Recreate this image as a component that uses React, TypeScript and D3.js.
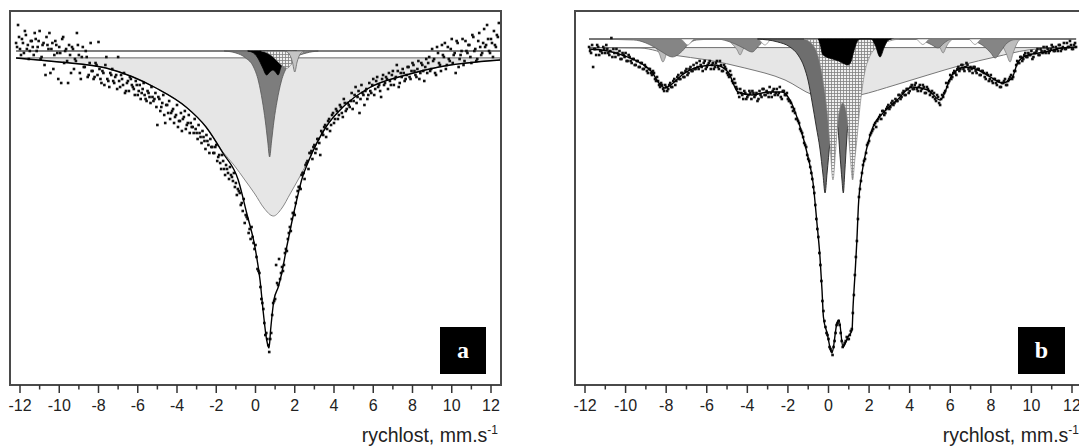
import React from 'react';
import * as d3 from 'd3';

const W = 1079;
const H = 447;

// velocity axis ticks (mm/s)
const majorTicks = [-12, -10, -8, -6, -4, -2, 0, 2, 4, 6, 8, 10, 12];
const minorTicks = [-11, -9, -7, -5, -3, -1, 1, 3, 5, 7, 9, 11];
const axisLabel = 'rychlost, mm.s';
const chanStep = 0.1;

// ---------- Panel a ----------
const chanStartA = -12.2;
// measured relative transmission (%) per channel, panel a
const dataA = [
  100.4, 101.3, 100.1, 100.6, 99.9, 100.8, 100.3, 100.0, 100.5, 99.8,
  100.6, 100.2, 101.0, 99.7, 100.4, 98.8, 100.3, 100.9, 100.1, 99.1,
  100.5, 99.9, 100.2, 98.4, 100.7, 100.0, 99.5, 100.3, 98.9, 100.1,
  99.6, 100.9, 99.8, 98.6, 100.2, 99.2, 99.7, 98.8, 100.4, 99.0,
  98.7, 99.3, 100.45, 98.6, 99.0, 98.3, 99.7, 98.5, 98.9, 99.1,
  98.4, 98.8, 99.7, 98.2, 98.6, 98.9, 98.0, 98.5, 98.7, 98.3,
  98.1, 98.5, 97.8, 98.3, 97.9, 98.4, 97.6, 98.0, 97.7, 98.2,
  97.5, 97.9, 96.3, 97.6, 97.2, 97.8, 96.4, 97.3, 97.5, 96.9,
  97.1, 96.7, 97.3, 96.5, 96.9, 96.6, 97.0, 96.3, 96.8, 96.4,
  96.2, 96.6, 95.9, 96.3, 95.7, 96.0, 95.5, 95.8, 95.3, 95.6,
  95.2, 94.9, 95.3, 94.7, 94.4, 94.8, 94.1, 94.3, 93.9, 94.2,
  93.7, 93.9, 93.4, 93.1, 92.9, 92.4, 92.6, 91.8, 91.6, 91.1,
  91.2, 90.4, 90.3, 89.1, 88.9, 87.6, 87.1, 85.8, 85.6, 84.95,
  85.9, 87.4, 87.6, 88.4, 89.6, 88.9, 89.0, 89.9, 90.0, 90.9,
  91.0, 91.9, 91.8, 92.7, 93.2, 93.1, 93.9, 93.6, 94.4, 94.1,
  94.9, 94.6, 95.3, 95.1, 95.6, 94.8, 95.9, 96.2, 95.7, 96.5,
  96.0, 96.8, 96.4, 97.1, 96.6, 97.3, 96.9, 97.6, 97.0, 97.4,
  97.2, 97.9, 97.5, 98.2, 97.7, 96.9, 98.3, 97.8, 98.0, 97.6,
  98.4, 97.9, 98.6, 98.1, 98.7, 98.3, 97.7, 98.8, 98.4, 98.6,
  98.9, 98.3, 99.0, 98.6, 99.3, 98.2, 98.9, 99.1, 98.5, 98.8,
  99.2, 98.6, 99.4, 99.0, 98.7, 99.5, 98.9, 99.3, 98.5, 99.6,
  99.4, 99.0, 100.1, 99.6, 98.8, 99.9, 99.3, 100.3, 99.7, 99.1,
  100.2, 99.5, 100.6, 99.8, 98.9, 100.4, 99.6, 100.0, 99.3, 100.5,
  99.9, 100.3, 99.4, 100.7, 100.1, 99.6, 100.9, 99.8, 100.4, 100.2,
  101.3, 100.0, 100.6, 99.7, 100.3, 100.8, 101.4,
];
// second (folded) half of the spectrum, panel a
const chanStartA2 = -12.15;
const dataA2 = [
  100.2, 100.7, 99.8, 100.4, 101.0, 100.1, 99.6, 100.5, 100.2, 100.9,
  100.0, 100.5, 99.6, 100.3, 99.3, 100.7, 100.1, 98.9, 100.4, 99.8,
  100.3, 98.6, 99.9, 100.6, 99.4, 100.1, 98.4, 99.8, 100.2, 99.1,
  99.5, 100.3, 98.9, 99.7, 99.2, 100.0, 98.7, 99.4, 99.0, 98.6,
  99.4, 98.8, 99.1, 98.4, 98.9, 99.3, 98.6, 98.2, 98.8, 98.5,
  98.7, 98.1, 98.5, 98.8, 98.3, 97.9, 98.4, 98.0, 98.6, 98.2,
  97.8, 98.3, 98.0, 97.6, 98.1, 97.8, 97.5, 97.9, 97.4, 97.7,
  97.6, 97.2, 97.7, 97.0, 97.4, 96.8, 97.3, 96.9, 96.6, 97.0,
  96.4, 96.8, 96.2, 96.5, 96.0, 96.7, 96.1, 96.4, 95.9, 96.2,
  95.9, 96.1, 95.6, 95.9, 95.4, 95.7, 95.1, 95.5, 94.9, 95.2,
  94.9, 95.2, 94.5, 94.8, 94.1, 94.5, 93.8, 94.1, 93.6, 93.8,
  93.5, 93.2, 92.8, 93.0, 92.3, 92.0, 91.4, 91.7, 90.9, 90.6,
  90.7, 90.1, 89.7, 89.0, 88.2, 87.4, 86.4, 85.9, 85.3, 85.6,
  86.8, 87.5, 89.3, 88.3, 88.6, 89.2, 89.3, 90.1, 90.6, 91.2,
  91.6, 91.9, 92.4, 93.0, 93.2, 93.8, 93.9, 94.3, 94.5, 94.9,
  95.0, 95.2, 94.9, 95.6, 95.4, 96.0, 95.8, 96.3, 96.1, 96.6,
  96.3, 96.9, 96.6, 97.0, 96.8, 97.2, 96.7, 97.4, 97.1, 97.3,
  97.5, 97.1, 97.8, 97.4, 98.0, 97.6, 97.9, 97.3, 98.1, 97.8,
  98.0, 98.3, 97.8, 98.5, 98.2, 98.0, 98.6, 98.3, 98.7, 98.1,
  98.5, 98.8, 98.3, 98.7, 99.0, 98.4, 98.7, 98.9, 98.6, 99.2,
  98.7, 99.0, 99.3, 98.8, 99.1, 98.6, 99.4, 99.0, 99.2, 98.9,
  99.7, 99.1, 99.5, 98.9, 100.2, 99.4, 99.0, 99.8, 100.4, 99.3,
  99.6, 100.1, 99.4, 99.9, 100.5, 99.2, 99.8, 100.6, 99.5, 100.0,
  100.3, 99.7, 100.8, 100.0, 99.5, 100.5, 100.2, 99.9, 101.1, 100.3,
  100.6, 99.9, 100.4, 101.0, 100.2, 100.7,
];
const fitA: [number, number][] = [
  [-12.2, 99.65], [-10, 99.45], [-7.62, 99.15], [-5.07, 98.15], [-3.54, 97.2],
  [-2.52, 96.2], [-1.66, 94.9], [-0.88, 93.55], [-0.45, 91.9], [-0.03, 90.2],
  [0.23, 88.55], [0.4, 86.9], [0.57, 85.55], [0.69, 85.15], [0.77, 86.05],
  [0.94, 87.55], [1.16, 88.2], [1.34, 88.9], [1.59, 90.2], [1.84, 91.4],
  [2.1, 92.55], [2.35, 93.55], [2.73, 94.55], [3.59, 96.2], [4.46, 97.2],
  [5.78, 98.15], [7.67, 98.8], [9.35, 99.2], [12.46, 99.55],
];
const broadBaseA = 99.65;
const broadA: [number, number][] = [
  [-12.2, 99.65], [-10, 99.45], [-7.62, 99.15], [-5.07, 98.15], [-3.54, 97.2],
  [-2.52, 96.2], [-1.66, 94.95], [-1.1, 94.3], [-0.54, 93.55], [-0.03, 92.85],
  [0.43, 92.15], [0.91, 91.75], [1.35, 92.15], [1.76, 92.85], [2.22, 93.65],
  [2.73, 94.6], [3.59, 96.2], [4.46, 97.2], [5.78, 98.15], [7.67, 98.8],
  [9.35, 99.2], [12.46, 99.55],
];
const darkA: [number, number][] = [
  [-1.6, 100], [-1.0, 99.9], [-0.5, 99.65], [-0.1, 99.2], [0.15, 98.5], [0.35, 97.5],
  [0.5, 96.5], [0.62, 95.5], [0.72, 94.7], [0.82, 95.5], [0.94, 96.5], [1.1, 97.5],
  [1.32, 98.5], [1.6, 99.2], [2.0, 99.65], [2.6, 99.9], [3.2, 100],
];
const blackA: [number, number][] = [
  [-0.4, 100], [-0.1, 99.9], [0.15, 99.6], [0.35, 99.2], [0.57, 98.8], [0.73, 98.95],
  [0.89, 99.05], [1.02, 98.95], [1.15, 98.8], [1.3, 99.2], [1.5, 99.7], [1.75, 99.95], [2.1, 100],
];
const hatchA: [number, number][] = [
  [0.3, 100], [0.6, 99.9], [0.9, 99.7], [1.2, 99.4], [1.45, 99.2], [1.6, 99.13],
  [1.8, 99.3], [2.1, 99.65], [2.4, 99.9], [2.7, 100],
];
const lightA: [number, number][] = [
  [1.5, 100], [1.72, 99.85], [1.88, 99.45], [2.0, 98.95], [2.12, 99.45], [2.28, 99.85], [2.5, 100],
];

// ---------- Panel b ----------
const chanStartB = -11.8;
const dataB = [
  99.6, 99.3, 98.6, 99.5, 99.7, 99.2, 99.4, 99.6, 99.3, 99.5,
  99.2, 100.05, 99.5, 99.1, 99.3, 99.4, 99.0, 99.2, 99.3, 98.9,
  99.1, 98.8, 99.0, 98.7, 98.9, 98.6, 98.8, 98.5, 98.6, 98.3,
  98.5, 98.2, 98.3, 97.9, 97.9, 97.6, 97.7, 97.4, 97.6, 97.5,
  97.8, 97.6, 98.0, 97.9, 98.2, 98.0, 98.3, 98.1, 98.5, 98.3,
  98.6, 98.4, 98.5, 98.8, 98.5, 98.7, 98.4, 98.9, 98.6, 98.8,
  98.5, 98.8, 98.6, 98.9, 98.5, 98.7, 98.4, 98.6, 98.3, 98.1,
  98.2, 97.8, 97.8, 97.5, 97.1, 97.3, 97.0, 97.3, 97.1, 97.4,
  97.0, 97.3, 97.2, 96.9, 97.4, 97.1, 97.5, 97.2, 97.3, 97.6,
  97.1, 97.5, 97.3, 97.2, 97.6, 97.0, 97.4, 97.2, 97.0, 96.9,
  96.6, 96.5, 96.0, 95.9, 95.5, 95.3, 94.8, 94.6, 94.0, 93.6,
  93.0, 92.3, 91.0, 90.1, 88.7, 86.9, 85.9, 85.3, 85.0, 84.5,
  84.2, 84.9, 85.7, 85.9, 85.3, 84.6, 84.8, 85.1, 85.0, 85.4,
  86.3, 88.2, 89.9, 92.1, 92.9, 93.7, 94.0, 94.7, 94.9, 95.3,
  95.5, 95.8, 95.9, 96.1, 96.0, 96.4, 96.3, 96.6, 96.5, 96.8,
  96.7, 97.0, 96.9, 97.2, 97.1, 97.4, 97.2, 97.5, 97.4, 97.7,
  97.5, 97.8, 97.4, 97.7, 97.5, 97.6, 97.3, 97.5, 97.2, 97.4,
  97.3, 96.9, 97.1, 96.7, 97.2, 97.3, 97.8, 97.8, 98.2, 98.1,
  98.4, 98.2, 98.6, 98.5, 98.7, 98.4, 98.8, 98.5, 98.6, 98.3,
  98.6, 98.3, 98.5, 98.2, 98.4, 98.1, 98.3, 97.9, 98.2, 97.8,
  98.0, 97.7, 97.9, 97.6, 97.8, 98.0, 97.7, 98.0, 98.2, 98.1,
  98.4, 98.9, 98.8, 99.1, 99.0, 99.3, 99.1, 99.2, 99.4, 99.1,
  99.3, 99.5, 99.2, 99.4, 99.6, 99.3, 99.5, 99.4, 99.7, 99.4,
  99.6, 99.4, 99.7, 99.5, 99.8, 99.5, 99.6, 99.9, 99.5, 99.7, 99.6,
];
// second (folded) half of the spectrum, panel b
const chanStartB2 = -11.75;
const dataB2 = [
  99.4, 99.7, 99.5, 99.2, 99.6, 99.4, 99.3, 99.5, 99.7, 99.3,
  99.4, 99.1, 99.3, 99.5, 99.2, 99.0, 99.3, 99.1, 98.9, 99.2,
  98.9, 99.0, 98.7, 98.9, 98.6, 98.8, 98.5, 98.7, 98.4, 98.5,
  98.3, 98.4, 98.0, 98.1, 97.7, 97.8, 97.5, 97.7, 97.4, 97.7,
  97.6, 97.9, 97.7, 98.1, 98.0, 98.3, 98.1, 98.4, 98.2, 98.5,
  98.4, 98.7, 98.5, 98.6, 98.9, 98.6, 98.8, 98.5, 98.7, 98.9,
  98.7, 98.5, 98.8, 98.6, 98.9, 98.4, 98.7, 98.5, 98.2, 98.4,
  97.9, 98.0, 97.6, 97.3, 97.5, 97.2, 97.4, 97.0, 97.2, 97.3,
  97.4, 97.1, 97.3, 97.0, 97.2, 97.5, 97.2, 97.4, 97.1, 97.3,
  97.4, 97.2, 97.5, 97.3, 97.1, 97.4, 97.2, 97.3, 96.9, 96.8,
  96.4, 96.3, 96.0, 95.8, 95.4, 95.1, 94.7, 94.2, 93.9, 93.3,
  92.6, 91.7, 90.5, 89.3, 87.9, 86.4, 85.6, 85.2, 84.6, 84.4,
  84.6, 85.3, 85.8, 85.7, 84.9, 84.7, 84.9, 85.0, 85.2, 85.5,
  87.2, 89.1, 91.0, 92.5, 93.3, 93.9, 94.3, 94.8, 95.2, 95.4,
  95.7, 95.6, 96.0, 96.2, 96.4, 96.2, 96.5, 96.7, 96.6, 96.9,
  96.8, 96.9, 97.2, 97.0, 97.3, 97.2, 97.5, 97.3, 97.6, 97.5,
  97.7, 97.5, 97.6, 97.4, 97.7, 97.3, 97.6, 97.4, 97.3, 97.1,
  97.0, 97.2, 96.8, 97.0, 97.1, 97.4, 97.6, 97.9, 98.0, 98.3,
  98.3, 98.5, 98.4, 98.7, 98.5, 98.6, 98.7, 98.4, 98.5, 98.6,
  98.4, 98.5, 98.2, 98.4, 98.3, 98.0, 98.2, 98.0, 97.9, 98.0,
  97.8, 97.9, 97.6, 97.8, 97.9, 97.7, 97.9, 98.1, 98.0, 98.4,
  98.7, 98.8, 99.1, 98.9, 99.2, 99.1, 99.3, 99.2, 99.0, 99.3,
  99.4, 99.2, 99.5, 99.3, 99.4, 99.6, 99.3, 99.5, 99.6, 99.4,
  99.5, 99.7, 99.4, 99.6, 99.5, 99.8, 99.6, 99.7, 99.5, 99.8,
];
const fitB: [number, number][] = [
  [-11.8, 99.5], [-10.87, 99.4], [-10.03, 99.15], [-9.19, 98.75], [-8.7, 98.35],
  [-8.36, 97.8], [-8.06, 97.55], [-7.71, 97.75], [-7.22, 98.2], [-6.43, 98.6],
  [-5.59, 98.7], [-4.95, 98.35], [-4.46, 97.35], [-3.77, 97.2], [-2.98, 97.35],
  [-2.29, 97.35], [-1.9, 96.95], [-1.4, 95.6], [-1.01, 94.1], [-0.76, 92.8],
  [-0.57, 90.8], [-0.42, 89.1], [-0.32, 87.45], [-0.25, 86.1], [-0.07, 85.3],
  [0.17, 84.3], [0.42, 85.8], [0.52, 85.95], [0.71, 84.6], [0.96, 85.1],
  [1.16, 85.45], [1.21, 86.6], [1.31, 88.3], [1.4, 89.95], [1.47, 91.6],
  [1.65, 93.3], [1.9, 94.6], [2.19, 95.6], [2.69, 96.3], [3.38, 96.95],
  [4.12, 97.6], [4.9, 97.45], [5.5, 96.95], [6.09, 98.2], [6.73, 98.6],
  [7.37, 98.45], [8.06, 98.05], [8.55, 97.8], [9.04, 98.05], [9.34, 98.85],
  [9.83, 99.2], [10.67, 99.35], [11.51, 99.55], [12.2, 99.6],
];
const broadBaseB = 99.57;
const broadB: [number, number][] = [
  [-11.8, 99.57], [-9.29, 99.55], [-7.67, 99.2], [-5.94, 98.95], [-4.12, 98.55],
  [-2.14, 97.95], [-0.76, 97.2], [0.37, 97.0], [1.55, 97.2], [3.28, 97.7],
  [4.9, 98.2], [6.58, 98.7], [8.21, 99.1], [9.83, 99.45], [11.16, 99.55], [12.2, 99.57],
];
const sextetLightB: [number, number][] = [
  [-11.8, 100], [-8.9, 100], [-8.6, 99.7], [-8.35, 99.3], [-8.16, 98.85], [-7.95, 99.35],
  [-7.7, 99.8], [-7.4, 100], [-5.0, 100], [-4.75, 99.75], [-4.5, 99.45], [-4.36, 99.2],
  [-4.2, 99.5], [-4.0, 99.85], [-3.8, 100], [5.1, 100], [5.35, 99.8], [5.5, 99.55],
  [5.65, 99.3], [5.8, 99.6], [6.0, 99.9], [6.2, 100], [8.3, 100], [8.55, 99.7],
  [8.75, 99.3], [8.95, 98.85], [9.1, 99.3], [9.3, 99.8], [9.5, 100], [12.2, 100],
];
const sextetDarkB: [number, number][] = [
  [-11.8, 100], [-9.6, 99.95], [-9.0, 99.8], [-8.6, 99.6], [-8.2, 99.35], [-7.7, 99.1],
  [-7.2, 99.4], [-6.9, 99.75], [-6.5, 99.95], [-5.5, 100], [-5.0, 99.9], [-4.6, 99.75],
  [-4.2, 99.55], [-3.77, 99.35], [-3.4, 99.7], [-3.1, 99.95], [-2.6, 100], [4.3, 100],
  [4.8, 99.85], [5.1, 99.7], [5.4, 99.55], [5.7, 99.8], [6.0, 99.97], [6.8, 100],
  [7.3, 99.85], [7.7, 99.6], [8.0, 99.3], [8.21, 99.05], [8.5, 99.4], [8.8, 99.8],
  [9.2, 99.97], [12.2, 100],
];
const sextetWhiteB: [number, number][] = [
  [-11.8, 100], [-7.3, 100], [-6.93, 99.7], [-6.6, 100], [-3.5, 100], [-3.13, 99.7],
  [-2.8, 100], [4.3, 100], [4.65, 99.72], [5.0, 100], [6.9, 100], [7.22, 99.72],
  [7.55, 100], [12.2, 100],
];
const darkB: [number, number][] = [
  [-3.5, 100], [-2.5, 99.85], [-1.9, 99.6], [-1.5, 99.2], [-1.2, 98.6], [-1.0, 97.9],
  [-0.8, 96.8], [-0.6, 95.6], [-0.42, 94.5], [-0.27, 93.2], [-0.17, 92.3], [-0.07, 93.3],
  [0.07, 94.8], [0.25, 96.0], [0.45, 95.6], [0.58, 94.0], [0.66, 93.0], [0.73, 92.3],
  [0.8, 93.3], [0.9, 95.0], [1.05, 96.8], [1.3, 98.3], [1.7, 99.3], [2.3, 99.8], [3.2, 100],
];
const hatchB: [number, number][] = [
  [-1.2, 100], [-0.7, 99.6], [-0.45, 98.9], [-0.25, 97.8], [-0.05, 96.2], [0.08, 94.6],
  [0.22, 92.95], [0.35, 94.4], [0.5, 96.2], [0.7, 96.8], [0.9, 96.2], [1.05, 94.4],
  [1.19, 92.95], [1.3, 94.0], [1.42, 95.2], [1.55, 96.6], [1.65, 97.45], [1.8, 98.4],
  [2.0, 99.05], [2.4, 99.6], [3.0, 99.9], [3.5, 100],
];
const blackB: [number, number][] = [
  [-0.5, 100], [-0.4, 99.7], [-0.3, 99.25], [-0.1, 99.1], [0.2, 99.0], [0.5, 98.9],
  [0.8, 98.75], [0.96, 98.7], [1.1, 98.85], [1.25, 99.4], [1.4, 99.85], [1.55, 100],
  [2.1, 100], [2.3, 99.7], [2.54, 99.1], [2.75, 99.6], [2.95, 99.95], [3.1, 100],
];

type Pt = [number, number];
type Comp = { pts: Pt[]; base: number; fill: string; stroke: string; sw: number };
type Series = { start: number; values: number[] };

interface PanelProps {
  id: string;
  letter: string;
  frame: { x0: number; x1: number; y0: number; y1: number };
  xRange: [number, number];
  lineSpan: [number, number];
  yBase: number; // pixel of T=100
  pxPerUnit: number;
  series: Series[];
  fit: Pt[];
  broadBase: number;
  comps: Comp[];
  box: { x: number; y: number; w: number; h: number };
}

function Panel(p: PanelProps) {
  const x = d3.scaleLinear().domain([-12, 12]).range(p.xRange);
  const y = d3.scaleLinear().domain([100, 90]).range([p.yBase, p.yBase + 10 * p.pxPerUnit]);
  const line = d3.line<Pt>().x(d => x(d[0])).y(d => y(d[1])).curve(d3.curveMonotoneX);
  const area = (base: number) =>
    d3.area<Pt>().x(d => x(d[0])).y0(y(base)).y1(d => y(d[1])).curve(d3.curveMonotoneX);
  const { x0, x1, y0, y1 } = p.frame;
  const font = "'Liberation Sans', Arial, sans-serif";
  const lx0 = x(p.lineSpan[0]);
  const lx1 = x(p.lineSpan[1]);
  return (
    <g>
      <defs>
        <clipPath id={`clip-${p.id}`}>
          <rect x={x0} y={y0} width={x1 - x0} height={y1 - y0} />
        </clipPath>
      </defs>
      <g clipPath={`url(#clip-${p.id})`}>
        <line x1={lx0} x2={lx1} y1={y(100)} y2={y(100)} stroke="#555" strokeWidth={1.4} />
        <line x1={lx0} x2={lx1} y1={y(p.broadBase)} y2={y(p.broadBase)} stroke="#666" strokeWidth={1} />
        {p.comps.map((c, i) => (
          <path key={i} d={area(c.base)(c.pts) || ''} fill={c.fill} stroke={c.stroke} strokeWidth={c.sw} />
        ))}
        {p.series.map((s, si) =>
          s.values.map((t, i) => {
            const v = s.start + i * chanStep;
            return (
              <rect key={`${si}-${i}`} x={x(v) - 1.3} y={y(t) - 1.3} width={2.6} height={2.6} fill="#111" />
            );
          })
        )}
        <path d={line(p.fit) || ''} fill="none" stroke="#000" strokeWidth={1.4} />
      </g>
      <rect x={x0} y={y0} width={x1 - x0} height={y1 - y0} fill="none" stroke="#4a4a4a" strokeWidth={2} />
      {majorTicks.map(t => (
        <g key={`M${t}`}>
          <line x1={x(t)} x2={x(t)} y1={y1} y2={y1 + 8} stroke="#333" strokeWidth={1.5} />
          <text x={x(t)} y={411} textAnchor="middle" fontSize={16} fontFamily={font} fill="#222">
            {String(t)}
          </text>
        </g>
      ))}
      {minorTicks.map(t => (
        <line key={`m${t}`} x1={x(t)} x2={x(t)} y1={y1} y2={y1 + 4.5} stroke="#333" strokeWidth={1.5} />
      ))}
      <text x={x1 - 3} y={442} textAnchor="end" fontSize={19.5} fontFamily={font} fill="#222">
        {axisLabel}
        <tspan dy={-8} fontSize={12}>-1</tspan>
      </text>
      <rect x={p.box.x} y={p.box.y} width={p.box.w} height={p.box.h} fill="#000" />
      <text
        x={p.box.x + p.box.w / 2}
        y={p.box.y + p.box.h / 2 + 7}
        textAnchor="middle"
        fontSize={24}
        fontWeight="bold"
        fontFamily="'Liberation Serif', 'Times New Roman', serif"
        fill="#fff"
      >
        {p.letter}
      </text>
    </g>
  );
}

export default function App() {
  const broadFill = '#e6e6e6';
  const compsA: Comp[] = [
    { pts: broadA, base: broadBaseA, fill: broadFill, stroke: '#888', sw: 1 },
    { pts: darkA, base: 100, fill: '#7d7d7d', stroke: '#555', sw: 0.8 },
    { pts: blackA, base: 100, fill: '#000', stroke: '#000', sw: 0.8 },
    { pts: hatchA, base: 100, fill: 'url(#hatch)', stroke: '#777', sw: 0.6 },
    { pts: lightA, base: 100, fill: '#c4c4c4', stroke: '#666', sw: 0.8 },
  ];
  const compsB: Comp[] = [
    { pts: broadB, base: broadBaseB, fill: broadFill, stroke: '#777', sw: 1 },
    { pts: sextetLightB, base: 100, fill: '#bdbdbd', stroke: '#777', sw: 0.7 },
    { pts: sextetDarkB, base: 100, fill: '#858585', stroke: '#555', sw: 0.7 },
    { pts: sextetWhiteB, base: 100, fill: '#fff', stroke: '#888', sw: 0.7 },
    { pts: darkB, base: 100, fill: '#6e6e6e', stroke: '#222', sw: 0.9 },
    { pts: hatchB, base: 100, fill: 'url(#hatch)', stroke: '#888', sw: 0.7 },
    { pts: blackB, base: 100, fill: '#000', stroke: '#000', sw: 0.8 },
  ];
  return (
    <svg
      width={W}
      height={H}
      viewBox={`0 0 ${W} ${H}`}
      style={{ position: 'absolute', left: 0, top: 0, background: '#fff' }}
    >
      <defs>
        <pattern id="hatch" width={3} height={3} patternUnits="userSpaceOnUse">
          <rect width={3} height={3} fill="#f0f0f0" />
          <path d="M0 0.5H3M0.5 0V3" stroke="#808080" strokeWidth={0.8} />
        </pattern>
      </defs>
      <rect width={W} height={H} fill="#fff" />
      <Panel
        id="a"
        letter="a"
        frame={{ x0: 10, x1: 501, y0: 11, y1: 385 }}
        xRange={[20, 491]}
        lineSpan={[-12.2, 12.5]}
        yBase={51}
        pxPerUnit={20}
        series={[
          { start: chanStartA, values: dataA },
          { start: chanStartA2, values: dataA2 },
        ]}
        fit={fitA}
        broadBase={broadBaseA}
        comps={compsA}
        box={{ x: 440, y: 327, w: 46, h: 47 }}
      />
      <Panel
        id="b"
        letter="b"
        frame={{ x0: 575, x1: 1082, y0: 11, y1: 385 }}
        xRange={[585, 1072]}
        lineSpan={[-11.8, 12.2]}
        yBase={39}
        pxPerUnit={20}
        series={[
          { start: chanStartB, values: dataB },
          { start: chanStartB2, values: dataB2 },
        ]}
        fit={fitB}
        broadBase={broadBaseB}
        comps={compsB}
        box={{ x: 1018, y: 327, w: 47, h: 47 }}
      />
    </svg>
  );
}
